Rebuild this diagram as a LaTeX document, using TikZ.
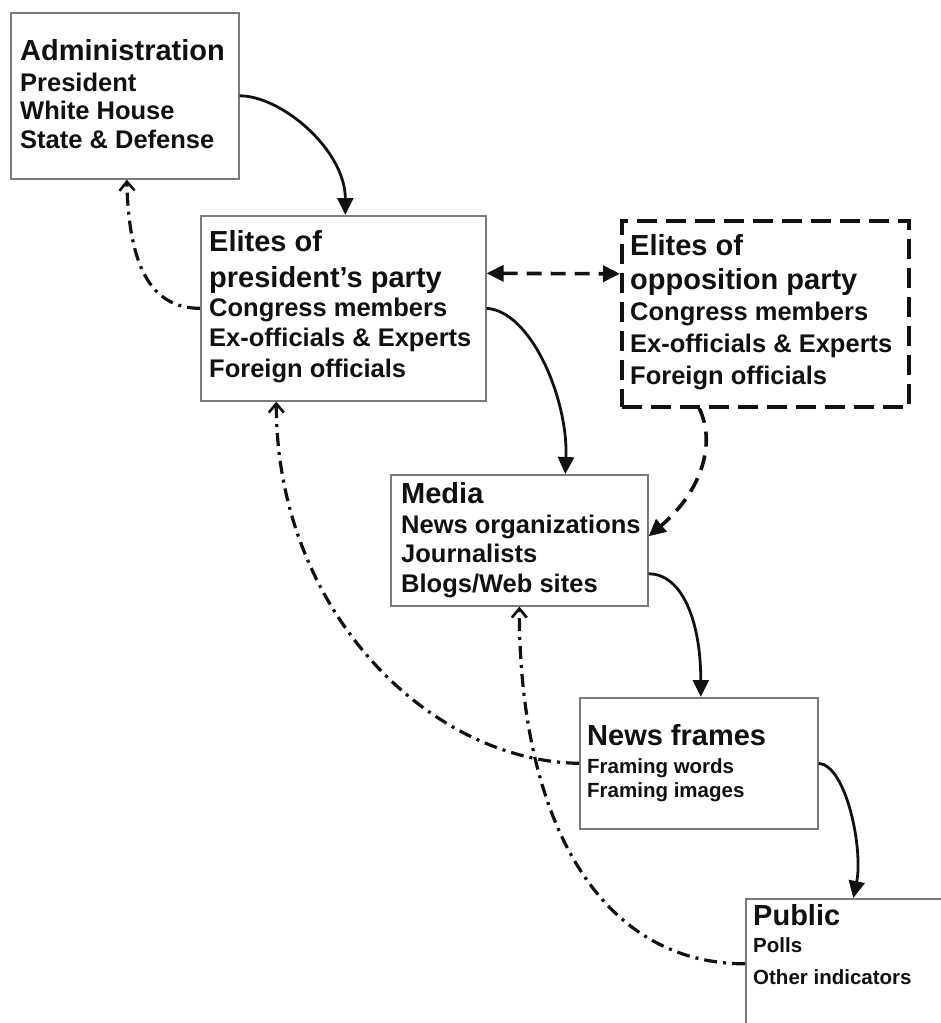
\documentclass[tikz,border=0pt]{standalone}
\usepackage{fontspec}
\setmainfont{Liberation Sans}
\usetikzlibrary{arrows.meta,calc}
\definecolor{boxgray}{HTML}{7A7A7A}
\definecolor{ink}{HTML}{111111}
\tikzset{
  box/.style={draw=boxgray, line width=1.6pt, inner sep=0pt, anchor=north west, fill=white},
  oppbox/.style={draw=ink, line width=3.6pt, dash pattern=on 20pt off 9pt, inner sep=0pt, anchor=north west},
  hd/.style={anchor=base west, inner sep=0pt, text=ink, font=\fontsize{29}{34}\selectfont\bfseries},
  sub/.style={anchor=base west, inner sep=0pt, text=ink, font=\fontsize{25.5}{30}\selectfont\bfseries},
  sml/.style={anchor=base west, inner sep=0pt, text=ink, font=\fontsize{20.5}{25}\selectfont\bfseries},
  solidarr/.style={draw=ink, line width=2.8pt, -{Triangle[length=17pt,width=16pt]}},
  dasharr/.style={draw=ink, line width=3.6pt, dash pattern=on 15pt off 9pt, -{Triangle[length=17pt,width=16pt]}},
  dblarr/.style={draw=ink, line width=3.6pt, dash pattern=on 15pt off 9pt, {Triangle[length=17pt,width=16pt]}-{Triangle[length=17pt,width=16pt]}},
  dotarr/.style={draw=ink, line width=3.2pt, dash pattern=on 13pt off 6pt on 3pt off 6pt, -{Straight Barb[length=9pt,width=15pt,line width=2.6pt]}},
}
\begin{document}
\begin{tikzpicture}[x=1pt,y=-1pt]
\useasboundingbox (0,0) rectangle (941,1023);
\fill[white] (0,0) rectangle (941,1023);

% boxes
\node[box, minimum width=228pt, minimum height=166pt] (admin) at (10,12) {};
\node[box, minimum width=285pt, minimum height=185pt] (pres) at (200,215) {};
\node[oppbox, minimum width=287pt, minimum height=186pt] (opp) at (620,219) {};
\node[box, minimum width=257pt, minimum height=131pt] (media) at (390,474) {};
\node[box, minimum width=238pt, minimum height=131pt] (news) at (579,697) {};
\begin{scope}
\clip (0,0) rectangle (941,1023);
\node[box, minimum width=215pt, minimum height=130pt] (public) at (745,898) {};
\end{scope}

% texts
\node[hd] (adminH) at (20,60) {Administration};
\node[sub] (adminA) at (20,91) {President};
\node[sub] (adminB) at (20,119) {White House};
\node[sub] (adminC) at (20,148) {State \& Defense};

\node[hd] (presH1) at (209,251) {Elites of};
\node[hd] (presH2) at (209,287) {president’s party};
\node[sub] (presA) at (209,316) {Congress members};
\node[sub] (presB) at (209,346) {Ex-officials \& Experts};
\node[sub] (presC) at (209,377) {Foreign officials};

\node[hd] (oppH1) at (630,255) {Elites of};
\node[hd] (oppH2) at (630,289) {opposition party};
\node[sub] (oppA) at (630,320) {Congress members};
\node[sub] (oppB) at (630,352) {Ex-officials \& Experts};
\node[sub] (oppC) at (630,384) {Foreign officials};

\node[hd] (mediaH) at (401,503) {Media};
\node[sub] (mediaA) at (401,533) {News organizations};
\node[sub] (mediaB) at (401,562) {Journalists};
\node[sub] (mediaC) at (401,592) {Blogs/Web sites};

\node[hd] (newsH) at (587,745) {News frames};
\node[sml] (newsA) at (587,773) {Framing words};
\node[sml] (newsB) at (587,797) {Framing images};

\node[hd] (pubH) at (753,925) {Public};
\node[sml] (pubA) at (753,952) {Polls};
\node[sml] (pubB) at (753,984) {Other indicators};

% connectors
\draw[solidarr] (admin.east) .. controls +(42,0) and +(0,-65) .. ($(pres.north)+(2,0)$);
\draw[dotarr] (pres.west) .. controls +(-50,0) and +(2,85) .. ($(admin.south)+(2,0)$);
\draw[dblarr] ($(pres.east)+(0,-35)$) -- ($(opp.west)+(0,-40)$);
\draw[solidarr] (pres.east) .. controls +(45,3) and +(3,-74) .. ($(media.north)+(46,0)$);
\draw[dasharr] ($(opp.south)+(-66,0)$) .. controls +(17,35) and +(53,-45) .. ($(media.east)+(0,-4)$);
\draw[solidarr] ($(media.east)+(0,33.5)$) .. controls +(33,0) and +(0,-77) .. ($(news.north)+(2,0)$);
\draw[solidarr] (news.east) .. controls +(28,2) and +(10,-48) .. (public.north);
\draw[dotarr] (news.west) .. controls +(-149,-2) and +(0,210) .. ($(pres.south)+(-67,0)$);
\draw[dotarr] (public.west) .. controls +(-145,0) and +(0,215) .. (media.south);
\end{tikzpicture}
\end{document}
